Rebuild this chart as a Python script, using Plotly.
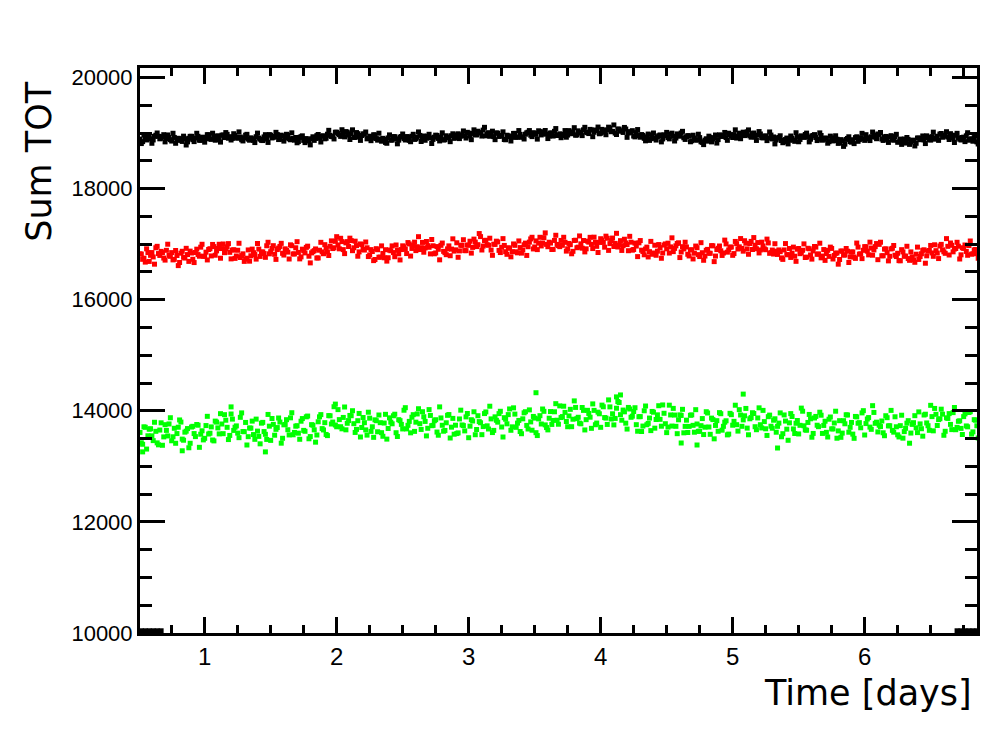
import numpy as np
import plotly.graph_objects as go

# Sampling of the time series (days): main samples and interleaved samples
T0 = 0.51
DT = 0.02

black_vals = [
18890,18845,18895,18940,18895,18875,18960,18940,18905,18970,
18900,18920,18855,18920,18870,18897,18848,18894,18840,18940,
18880,18910,18940,18868,18925,18900,18968,18886,18920,18943,
18881,18960,18918,18976,18934,18902,18956,18905,18928,18857,
18961,18890,18913,18868,18933,18909,18869,18930,18890,18971,
18911,18937,18972,18886,18944,18912,18960,18878,18901,18919,
18846,18934,18867,18900,18856,18897,18867,18953,18908,18944,
18895,18978,18958,18933,19014,18989,18939,18980,19025,18963,
18987,18920,19008,18937,18955,18978,18895,18942,18908,18965,
18871,18892,18904,18830,18911,18872,18934,18895,18871,18937,
18899,18935,18868,18942,18885,18924,18957,18901,18869,18942,
18911,18885,18961,18902,18928,18874,18950,18914,18951,18904,
18966,18899,18967,18949,19012,18945,18992,18970,19032,19000,
19052,18949,19006,18973,18935,19002,18939,18956,18883,18960,
18936,18922,18993,18924,18975,18927,18978,19014,18960,19005,
18975,19040,18965,19020,18980,18945,19000,19030,18955,18985,
18975,19044,18963,18997,19021,18960,19039,18998,19057,19016,
18990,19054,19013,19047,18986,19065,19014,19055,19088,19030,
18998,19070,19038,19010,19072,19000,19012,18945,19007,18954,
18972,18904,18931,18867,18965,18903,18931,18965,18893,18951,
18919,18977,18941,18909,18967,19000,18914,18933,18947,18860,
18909,18873,18917,18831,18871,18853,18920,18892,18964,18881,
18958,18945,18918,18996,18944,18972,18909,18997,18970,18953,
19021,18949,18990,18926,18961,18982,18912,18948,18908,18963,
18929,18874,18920,18865,18842,18909,18871,18908,18850,18932,
18884,18931,18973,18925,18888,18956,18919,18887,18955,18888,
18906,18844,18912,18865,18888,18826,18859,18799,18902,18845,
18879,18917,18850,18914,18897,18970,18894,18932,18961,18897,
18974,18891,18923,18885,18932,18884,18936,18833,18890,18857,
18819,18885,18838,18872,18815,18909,18887,18875,18949,18882,
18935,18889,18942,18981,18923,18963,18928,18988,18909,18959,
18914,18874,18925,18950,18870,18897,18918,18840]

black2_vals = [
18810,18965,18875,18940,18815,18940,19000,18895,18935,18840,
18965,18880,18995,18815,18905,18867,18943,18784,18905,18940,
18845,18995,18870,18918,18835,18970,18893,18996,18870,18948,
18836,18965,19008,18906,18874,18987,18921,19020,18878,18912,
18976,18870,18898,18828,18998,18889,18864,18970,18830,18961,
18921,19012,18882,18961,18854,18977,18895,19003,18871,18824,
18921,18949,18827,18880,18786,18932,18902,18973,18838,18949,
18905,19048,18938,18893,19014,18969,19059,18930,19015,18883,
19057,18920,18988,18867,18985,19018,18905,18862,18968,18900,
18996,18852,18884,18815,18966,18872,18934,18805,18926,18982,
18874,18930,18843,18977,18895,19019,18847,18946,18909,18977,
18811,18925,18956,18857,19003,18879,18925,18844,18986,18914,
18986,18944,19037,18909,18997,18880,19057,18965,19007,18945,
19102,18979,18941,19033,18880,18997,18944,19021,18878,18950,
18856,18992,18923,19044,18925,18892,19003,19044,18935,18995,
18890,19025,18985,19045,18900,19000,18945,19080,18965,18915,
18955,18924,19043,18987,19096,18965,19009,18953,19102,19006,
19065,18934,19053,19107,18996,19050,18969,19105,19023,19145,
18973,19070,19033,19100,18922,19025,19042,18930,19062,18924,
18957,18859,18981,18897,19000,18873,18951,18840,18968,19011,
18894,18997,18856,18984,18942,19030,18884,18953,18842,18960,
18874,18978,18842,18791,18896,18943,18840,18912,18819,18966,
18938,19010,18868,18971,18919,19057,18944,18897,19015,18968,
19056,18924,19000,18866,19026,18917,18942,18863,19018,18893,
18804,18909,18950,18825,18882,18804,18946,18873,19005,18842,
18949,18921,18998,18840,18948,18971,18864,19002,18870,18908,
18816,18944,18857,18950,18813,18881,18759,18884,18932,18835,
18809,18932,18880,18994,18867,18915,18864,19017,18926,18982,
19009,18866,18938,18830,18952,18869,18976,18843,18795,18892,
18919,18795,18863,18767,18910,18879,18947,18810,18919,18872,
19015,18909,18867,18991,18943,19023,18883,18958,18829,18994,
18889,18919,18845,19005,18885,18852,18948,18800]

red_vals = [
16825,16726,16676,16847,16798,16769,16934,16830,16869,16749,
16888,16797,16847,16726,16795,16669,16871,16749,16812,16874,
16727,16849,16812,16945,16782,16855,16903,16787,16955,16878,
16997,16920,16846,16951,16852,16892,16743,16889,16759,16825,
16730,16895,16790,16845,16730,16910,16855,16830,16970,16825,
16925,16816,16902,16958,16834,16915,16856,16987,16823,16934,
16850,16770,16881,16941,16782,16842,16882,16750,16890,16860,
16990,16860,16960,16920,17050,16985,17105,16901,17022,16957,
17063,16934,16974,16860,16991,16893,16934,16805,16867,16723,
16899,16766,16832,16899,16755,16881,16848,16984,16826,16902,
16949,16830,17003,16922,17035,16953,16902,17030,16931,16972,
16824,16970,16841,16907,16978,16870,16810,16968,16910,16874,
17024,16878,16978,16883,16982,17052,16941,17036,16990,17135,
16965,17069,16979,16893,16998,17053,16887,16942,16976,16816,
16926,16865,16978,16843,16938,16893,17018,16953,17093,16913,
17058,17018,16967,17116,16995,17034,16903,17066,16995,16954,
16978,17032,16916,16990,16870,17070,16945,17005,17065,16915,
17035,16995,17125,16960,17030,17070,16945,17105,17009,17109,
17013,16948,17062,16972,17021,16881,17035,16903,16965,17023,
16891,16808,16946,16864,16817,16980,16873,16937,16840,17003,
17017,16950,16865,16969,17024,16858,16913,16948,16787,16897,
16836,16936,16776,16845,16785,16905,16835,16970,16785,16925,
16880,16840,17003,16895,16948,16830,17008,16951,16923,17061,
16914,17011,16903,16980,17028,16895,16967,16899,17021,16848,
16821,16873,16895,16752,16895,16811,16921,16837,16782,16908,
16828,16889,16759,16925,16804,16877,16946,16824,16753,16902,
16830,16779,16922,16796,16840,16723,16874,16803,16872,16770,
16859,16743,16946,16825,16888,16952,16806,16929,16895,17010,
16995,16790,16910,16845,16780,16925,16800,16835,16700,16860,
16785,16740,16860,16716,16818,16724,16826,16897,16789,16885,
16841,16988,16839,16966,16897,16834,16960,17020,16861,16921,
16962,16807,16923,16868,16974,16819,16895,16830]

red2_vals = [
16821,16747,16915,16688,16848,16639,16960,16796,16848,16712,
16998,16780,16716,16885,16613,16837,16763,16924,16689,16840,
16668,16909,16782,16997,16779,16715,16917,16994,16800,16921,
16746,17002,16916,17009,16734,16899,16786,17015,16793,16689,
16746,16693,16910,16812,17011,16778,16860,16762,17033,16863,
16972,16725,16928,17014,16803,16889,16732,16971,16823,17044,
16734,16909,16842,16963,16662,16864,16913,16751,17032,16827,
16928,16795,17058,16934,17134,16915,17045,16829,17045,17107,
16882,17053,16782,17003,16903,17038,16776,16901,16703,16918,
16764,16968,16754,16694,16894,16968,16773,16892,16715,16969,
16909,17028,16785,16974,16883,17134,16936,16854,17047,16943,
17083,16826,16956,16717,17019,16846,16914,16791,17095,16897,
16763,16979,17079,16882,16981,16838,17090,16956,17190,16894,
17064,16990,17106,16798,16995,17039,16848,17099,16863,16934,
16771,17003,16862,17057,16838,16988,16796,17036,17123,16949,
16901,17123,17019,17202,16953,17019,16905,17159,16973,17066,
17123,16874,17012,16826,17065,16935,17147,16927,16860,17054,
17122,16920,17033,16849,17097,17030,17143,16887,17061,16957,
17194,16982,16886,17088,16992,17140,16891,17018,16775,17064,
16867,16912,16769,17049,16840,16799,16992,16745,16983,16915,
16839,17113,16923,17011,16758,16954,17034,16817,16896,16733,
16965,16811,17026,16709,16889,16836,16972,16685,16902,16966,
16796,17072,16855,16943,16798,17048,16912,17100,16873,17016,
16817,17049,17118,16916,16841,17035,16914,17090,16834,16893,
17007,16814,16864,16725,17010,16809,16760,16946,16690,16921,
16845,17004,16766,16916,16730,16957,16816,17016,16785,16707,
16889,16946,16732,16834,16639,16875,16804,16921,16669,16857,
16767,17019,16820,16739,16954,16873,17035,16800,16955,16720,
17034,16790,16915,16698,16913,16975,16776,16703,16900,16782,
16961,16708,16770,16673,16946,16777,16888,16656,16875,16976,
16780,16882,16740,16995,16862,17099,16804,16979,16912,17033,
16732,16934,16984,16799,17056,16826,16903,16745]

green_vals = [
13610,13397,13703,13550,13677,13463,13630,13387,13783,13530,
13647,13763,13460,13685,13590,13835,13490,13615,13680,13415,
13720,13535,13740,13578,13476,13734,13582,13710,13458,13796,
13584,13762,13930,13702,13556,13850,13704,13598,13882,13626,
13790,13534,13688,13572,13850,13539,13777,13626,13484,13723,
13861,13560,13698,13797,13505,13754,13659,13873,13568,13723,
13597,13812,13647,13891,13496,13750,13657,13564,13891,13679,
13786,13553,13910,13797,13744,14021,13713,13880,13657,13824,
13911,13768,13665,13952,13699,13786,13562,13867,13712,13837,
13622,13786,13541,13936,13681,13796,13910,13605,13840,13755,
14010,13674,13809,13884,13629,13943,13768,13983,13808,13685,
13916,13737,13839,13560,13871,13632,13784,13932,13705,13578,
13590,13853,13745,13638,13951,13723,13816,13569,13911,13784,
13716,13979,13672,13854,13647,13829,13949,13708,13876,13765,
14033,13711,13940,13778,13627,13855,13983,13672,13800,13898,
13606,13854,13762,13990,13698,13866,13754,13982,13830,14088,
13896,13971,13713,14026,13848,14060,13883,13765,14007,13840,
13952,13684,14007,13779,13946,14102,13878,13754,14070,13946,
13862,14167,13930,14013,13777,14060,13883,13987,13750,13893,
13627,14000,13749,13869,13988,13687,13927,13846,14105,13767,
13707,13925,14043,13720,13838,13916,13603,13831,13719,13926,
13614,13762,13632,13860,13705,13960,13576,13841,13736,13631,
13947,13720,13820,13580,13930,13810,13750,14020,13720,13910,
13688,13856,13965,13713,13871,13749,14007,13676,13894,13722,
13830,13614,13778,13532,13925,13669,13783,13897,13591,13825,
13738,13992,13656,13790,13856,13592,13898,13714,13920,13736,
13612,13848,13674,13780,13506,13822,13598,13766,13924,13702,
13580,13898,13776,13694,14002,13770,13878,13666,13970,13795,
13740,13816,13551,13876,13731,13647,13892,13567,13732,13507,
13685,13822,13599,13786,13693,13980,13677,13924,13781,13648,
13895,14042,13735,13857,13939,13631,13863,13755,13967,13659,
13811,13683,13895,13727,13969,13580,13840,13730]

green2_vals = [
13424,13711,13311,13668,13549,13793,13422,13653,13379,13750,
13547,13875,13532,13415,13704,13797,13470,13633,13334,13707,
13590,13753,13342,13640,13504,13900,13596,13474,13814,13692,
13948,13588,13830,13482,13942,13646,13728,13516,13962,13624,
13384,13690,13814,13486,13634,13405,13791,13576,13934,13467,
13755,13666,13870,13417,13747,13840,13565,13965,13610,13731,
13487,13860,13631,13905,13536,13740,13435,13802,13931,13655,
13574,13913,13762,14073,13712,13841,13675,14068,13775,13916,
14001,13610,13821,13528,13879,13656,13974,13629,13522,13821,
13924,13606,13779,13490,13873,13766,13938,13537,13822,13673,
14056,13738,13603,13930,13795,14037,13664,13893,13548,14021,
13732,13821,13617,14070,13739,13646,13918,13510,13863,13740,
13602,14011,13733,13890,13515,13839,13982,13663,13805,13570,
13950,13729,14082,13608,13891,13795,13991,13528,13848,13931,
13649,14053,13702,13826,13587,13963,13737,14016,13650,13868,
13554,13912,14032,13746,13656,13986,13826,14128,13758,13878,
14082,13807,13907,13714,14178,13858,13777,14059,13655,14008,
13884,14124,13749,13975,13702,14072,13868,14196,13852,13746,
14046,14149,13830,13981,13671,14032,13903,14055,13632,13895,
13725,14086,13773,13643,13974,13843,14091,13722,13955,13607,
14101,13725,13923,13588,13926,14026,13719,13609,13919,13738,
14020,13630,13732,13572,13983,13708,13868,13495,13822,13967,
13651,13794,13566,13954,13740,14100,13634,13924,13836,14042,
13568,13878,13951,13659,14053,13691,13805,13556,13922,13686,
13856,13720,13962,13588,13815,13469,13949,13673,13775,13583,
14048,13730,13650,13934,13524,13870,13740,13974,13592,13812,
13528,13888,13674,13992,13638,13522,13822,13928,13614,13790,
13504,13890,13786,13962,13564,13852,13706,14092,13774,13619,
13716,13604,13911,13728,14007,13615,13712,13529,13920,13625,
13777,13416,13755,13912,13607,13764,13543,13938,13731,14098,
13639,13936,13841,14029,13559,13873,13949,13661,14059,13701,
13819,13573,13943,13711,13983,13620,13830,13508]

# isolated green outliers (day, value)
green_extra_t = [0.53, 0.83, 1.20, 1.46, 1.99, 3.51, 4.15, 4.12, 4.61, 4.73, 5.08, 5.34]
green_extra_v = [13260, 13280, 14070, 13260, 14120, 14325, 14285, 14250, 13420, 13384, 14300, 13330]

# black points sitting on the lower edge at start/end of the run
edge_t = [0.52, 0.55, 0.58, 0.61, 0.64, 0.67, 6.70, 6.73, 6.76, 6.79, 6.82, 6.85]
edge_v = [10040, 10040, 10040, 10040, 10040, 10040, 10040, 10040, 10040, 10040, 10040, 10040]

x_ticks = [1, 2, 3, 4, 5, 6]
y_ticks = [10000, 12000, 14000, 16000, 18000, 20000]

t1 = T0 + DT * np.arange(len(black_vals))
t2 = t1 + DT / 2

def series(vals_a, vals_b, extra_t=(), extra_v=()):
    xs = list(t1) + list(t2) + list(extra_t)
    ys = list(vals_a) + list(vals_b) + list(extra_v)
    return xs, ys

fig = go.Figure()
msize = 5
for (xs, ys), col in [
    (series(green_vals, green2_vals, green_extra_t, green_extra_v), "#00ff00"),
    (series(red_vals, red2_vals), "#ff0000"),
    (series(black_vals, black2_vals, edge_t, edge_v), "#000000"),
]:
    fig.add_trace(go.Scatter(x=xs, y=ys, mode="markers",
                             marker=dict(symbol="square", size=msize, color=col, line=dict(width=0)),
                             showlegend=False))

fig.update_layout(
    width=1000, height=750,
    margin=dict(l=140, r=23, t=68, b=117),
    paper_bgcolor="white", plot_bgcolor="white",
    showlegend=False,
    annotations=[
        dict(text="Time [days]", xref="paper", yref="paper", x=0.997, y=-0.107,
             xanchor="right", yanchor="middle", showarrow=False,
             font=dict(family="DejaVu Sans", size=35, color="black")),
        dict(text="Sum TOT", xref="paper", yref="paper", x=-0.12, y=0.835,
             xanchor="center", yanchor="middle", showarrow=False, textangle=-90,
             font=dict(family="DejaVu Sans", size=35, color="black")),
    ],
)
fig.update_xaxes(
    range=[0.51, 6.851], showgrid=False, zeroline=False,
    showline=True, linewidth=3, linecolor="black", mirror="ticks",
    ticks="inside", ticklen=16, tickwidth=2.5, tickcolor="black",
    tickvals=x_ticks, ticktext=[str(v) for v in x_ticks],
    tickfont=dict(family="Liberation Sans", size=24, color="black"),
    minor=dict(ticks="inside", ticklen=8, tickwidth=2.5, tickcolor="black", dtick=0.25, tick0=0, showgrid=False),
)
fig.update_yaxes(
    range=[10000, 20170], showgrid=False, zeroline=False,
    showline=True, linewidth=3, linecolor="black", mirror="ticks",
    ticks="inside", ticklen=25, tickwidth=2.5, tickcolor="black",
    tickvals=y_ticks, ticktext=[str(v) for v in y_ticks],
    tickfont=dict(family="Liberation Sans", size=22, color="black"),
    minor=dict(ticks="inside", ticklen=12, tickwidth=2.5, tickcolor="black", dtick=500, tick0=0, showgrid=False),
)

fig.write_html("out.html")
